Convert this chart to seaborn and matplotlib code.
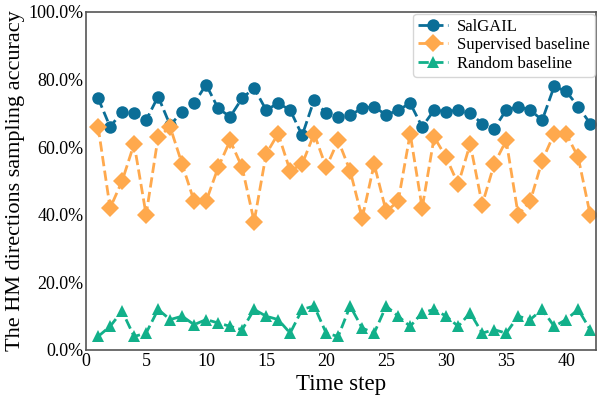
import numpy as np
import pandas as pd
import matplotlib
matplotlib.use("Agg")
import matplotlib.pyplot as plt
import seaborn as sns
from matplotlib.ticker import PercentFormatter

steps = list(range(1, 43))
salgail = [74.5, 66, 70.5, 70, 68, 75, 66.5, 70.5, 73, 78.5, 71.5, 69, 74.5, 77.5, 71, 73, 71,
           63.5, 74, 70, 69, 69.5, 71.5, 72, 69.5, 71, 73, 66, 71, 70.5, 71, 70, 67, 65.5, 71,
           72, 71, 68, 78, 76.5, 72, 67]
supervised = [66, 42, 50, 61, 40, 63, 66, 55, 44, 44, 54, 62, 54, 38, 58, 64, 53, 55, 64, 54,
              62, 53, 39, 55, 41, 44, 64, 42, 63, 57, 49, 61, 43, 55, 62, 40, 44, 56, 64, 64,
              57, 40]
random_bl = [4, 7, 11.5, 4, 5, 12, 9, 10, 7.5, 9, 8, 7, 6, 12, 10, 9, 5, 12, 13, 5, 4, 13, 6.5,
             5, 13, 10, 7, 11, 12, 10, 7, 11, 5, 6, 5, 10, 9, 12, 7, 9, 12, 6]
labels = ["SalGAIL", "Supervised baseline", "Random baseline"]
colors = ["#0b6e97", "#ffa94d", "#12b08a"]
markers = ["o", "D", "^"]

sns.set_style("white")
plt.rcParams["font.family"] = ["Liberation Serif", "DejaVu Serif"]

fig = plt.figure(figsize=(5.98, 4.0), dpi=100)
ax = fig.add_axes([0.144, 0.125, 0.853, 0.845])

df = pd.DataFrame({"step": steps * 3,
                   "acc": salgail + supervised + random_bl,
                   "series": [labels[0]] * 42 + [labels[1]] * 42 + [labels[2]] * 42})

for lab, c, m in zip(labels, colors, markers):
    sub = df[df["series"] == lab]
    sns.lineplot(data=sub, x="step", y="acc", ax=ax, color=c, marker=m, markersize=9,
                 linestyle="--", linewidth=2, markeredgewidth=0, label=lab)

ax.set_xlim(0, 42.5)
ax.set_ylim(0, 100)
ax.set_xticks([0, 5, 10, 15, 20, 25, 30, 35, 40])
ax.set_yticks([0, 20, 40, 60, 80, 100])
ax.yaxis.set_major_formatter(PercentFormatter(decimals=1))
ax.tick_params(axis="both", labelsize=13, length=0, pad=2, labelcolor="black")
ax.set_xlabel("Time step", fontsize=16.5, labelpad=3, color="black")
ax.set_ylabel("The HM directions sampling accuracy", fontsize=16, labelpad=2, color="black")
for s in ax.spines.values():
    s.set_color("#555555")
    s.set_linewidth(1.2)

leg = ax.legend(loc="upper right", fontsize=12, frameon=True, borderpad=0.3,
                labelspacing=0.15, handlelength=1.8, handletextpad=0.5,
                bbox_to_anchor=(1.0, 1.0), borderaxespad=0.1)
leg.get_frame().set_edgecolor("#cccccc")
for t in leg.get_texts():
    t.set_color("black")

fig.savefig("out.png", dpi=100)
